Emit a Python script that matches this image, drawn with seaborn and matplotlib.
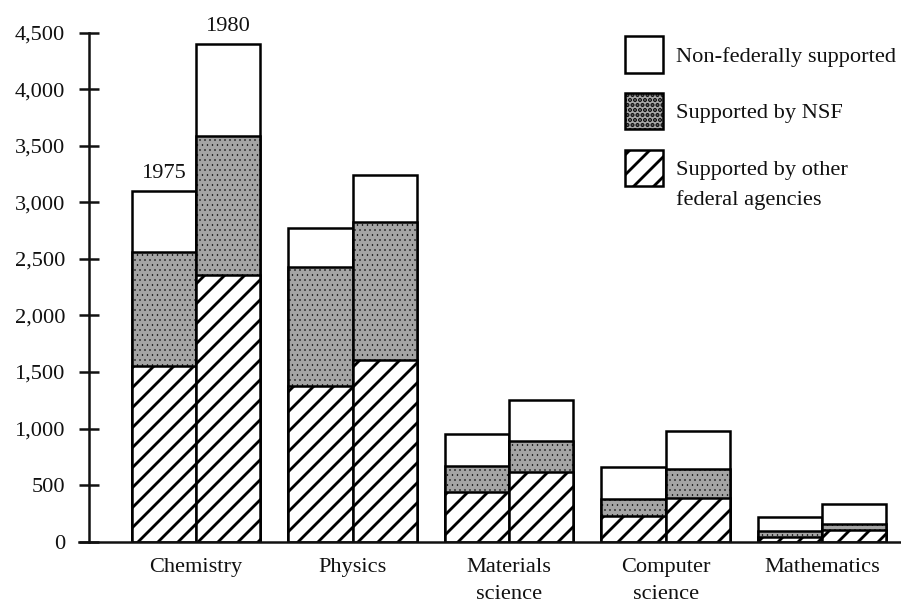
import matplotlib
matplotlib.use("Agg")
import matplotlib.pyplot as plt
from matplotlib.patches import Patch
from matplotlib.ticker import FuncFormatter
import pandas as pd
import seaborn as sns

# Graduate students in science by source of support, 1975 vs 1980
fields = ["Chemistry", "Physics", "Materials\nscience", "Computer\nscience", "Mathematics"]
years = ["1975", "1980"]

other_1975 = [1550, 1380, 435, 225, 45]
nsf_1975 = [1010, 1050, 235, 155, 50]
nonfed_1975 = [540, 340, 280, 280, 125]

other_1980 = [2360, 1610, 615, 385, 100]
nsf_1980 = [1230, 1220, 275, 255, 60]
nonfed_1980 = [810, 410, 360, 340, 170]

y_ticks = [0, 500, 1000, 1500, 2000, 2500, 3000, 3500, 4000, 4500]

legend_labels = ["Non-federally supported", "Supported by NSF",
                 "Supported by other"]
legend_label_cont = "federal agencies"

rows = []
for year, oth, nsf, nf in [("1975", other_1975, nsf_1975, nonfed_1975),
                           ("1980", other_1980, nsf_1980, nonfed_1980)]:
    for f, o, n, x in zip(fields, oth, nsf, nf):
        rows.append({"field": f, "year": year, "other": o,
                     "federal": o + n, "total": o + n + x})
df = pd.DataFrame(rows)

sns.set_theme(style="white")
plt.rcParams["font.family"] = ["Liberation Serif", "DejaVu Serif"]
plt.rcParams["hatch.linewidth"] = 1.7

DPI = 120
FS = 13.4
INK = "#111111"
fig = plt.figure(figsize=(901 / DPI, 603 / DPI), dpi=DPI)
ax = fig.add_axes([88.5 / 901, 61.3 / 603, 812 / 901, 509 / 603])

GRAY = "#a4a4a4"
layers = [("total", "white", ""), ("federal", GRAY, "...."), ("other", "white", "//")]
for col, color, hatch in layers:
    n0 = len(ax.patches)
    sns.barplot(data=df, x="field", y=col, hue="year", hue_order=years,
                order=fields, palette={y: color for y in years}, saturation=1,
                width=0.82, edgecolor="black", linewidth=1.5, legend=False,
                errorbar=None, ax=ax)
    for p in ax.patches[n0:]:
        if hatch:
            p.set_hatch(hatch)
            if hatch == "...." and hasattr(p, "set_hatch_linewidth"):
                p.set_hatch_linewidth(0.3)

# Year labels above the chemistry bars
chem = df[df["field"] == "Chemistry"].set_index("year")["total"]
for i, yr in enumerate(years):
    xpos = -0.205 + 0.41 * i
    ax.annotate(yr, xy=(xpos, chem[yr]), xytext=(0, 5),
                textcoords="offset points", ha="center", va="bottom",
                fontsize=FS, color=INK)

ax.set_xlim(-0.687, 4.5)
ax.set_ylim(0, 4500)
ax.set_yticks(y_ticks)
ax.yaxis.set_major_formatter(FuncFormatter(lambda v, _: f"{int(v):,}"))
ax.set_xlabel("")
ax.set_ylabel("")

for side in ["top", "right"]:
    ax.spines[side].set_visible(False)
for side in ["left", "bottom"]:
    ax.spines[side].set_linewidth(1.5)
    ax.spines[side].set_color(INK)
ax.spines["bottom"].set_bounds(-0.75, 4.5)

ax.tick_params(axis="y", direction="inout", length=12, width=1.5,
               pad=8, labelsize=FS, colors=INK, left=True)
ax.tick_params(axis="x", length=0, pad=10, labelsize=FS, colors=INK)
for lbl in ax.get_xticklabels():
    lbl.set_linespacing(1.55)

handles = [Patch(facecolor="white", edgecolor="black", linewidth=1.5),
           Patch(facecolor=GRAY, edgecolor="black", linewidth=1.5, hatch="...."),
           Patch(facecolor="white", edgecolor="black", linewidth=1.5, hatch="//")]
leg = ax.legend(handles, legend_labels, loc="upper left",
                bbox_to_anchor=(0.661, 0.993), frameon=False,
                fontsize=FS, handlelength=1.67, handleheight=2.14,
                labelspacing=0.90, handletextpad=0.6, borderpad=0,
                borderaxespad=0)
for t in leg.get_texts():
    t.set_color(INK)

# Second line of the last legend entry, set under its first line
fig.canvas.draw()
last = leg.get_texts()[-1]
bx, by = last.get_transform().transform(last.get_position())
fig.text(bx / fig.bbox.width, (by - 30) / fig.bbox.height, legend_label_cont,
         ha="left", va="baseline", fontsize=FS, color=INK)

fig.savefig("out.png", dpi=DPI)
